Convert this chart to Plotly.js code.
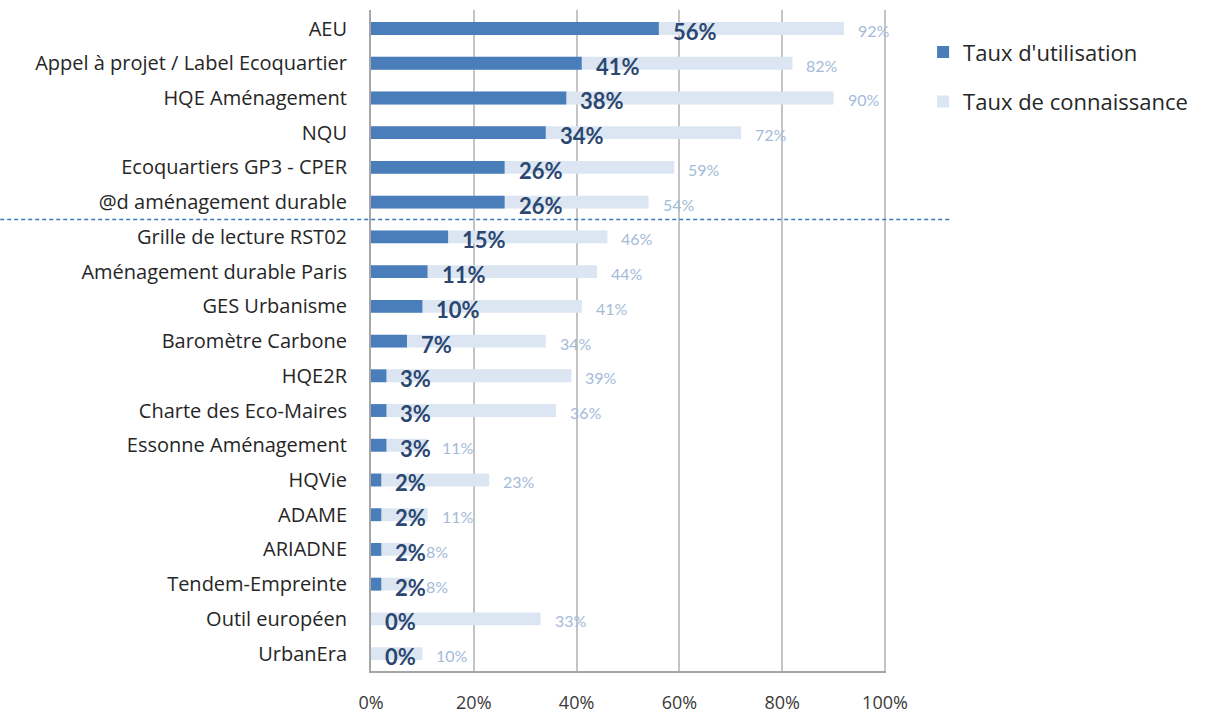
<!DOCTYPE html>
<html>
<head>
<meta charset="utf-8">
<script src="https://cdn.plot.ly/plotly-3.0.1.min.js"></script>
<style>
html,body{margin:0;padding:0;background:#fff;}
#chart{width:1206px;height:717px;}
</style>
</head>
<body>
<div id="chart"></div>
<script>
const categories = [
  "AEU",
  "Appel à projet / Label Ecoquartier",
  "HQE Aménagement",
  "NQU",
  "Ecoquartiers GP3 - CPER",
  "@d aménagement durable",
  "Grille de lecture RST02",
  "Aménagement durable Paris",
  "GES Urbanisme",
  "Baromètre Carbone",
  "HQE2R",
  "Charte des Eco-Maires",
  "Essonne Aménagement",
  "HQVie",
  "ADAME",
  "ARIADNE",
  "Tendem-Empreinte",
  "Outil européen",
  "UrbanEra"
];
const utilisation = [56, 41, 38, 34, 26, 26, 15, 11, 10, 7, 3, 3, 3, 2, 2, 2, 2, 0, 0];
const connaissance = [92, 82, 90, 72, 59, 54, 46, 44, 41, 34, 39, 36, 11, 23, 11, 8, 8, 33, 10];
const seriesNames = ["Taux d'utilisation", "Taux de connaissance"];
const xTickVals = [0, 20, 40, 60, 80, 100];
const xTickText = ["0%", "20%", "40%", "60%", "80%", "100%"];
const separatorAfter = "@d aménagement durable";

const darkBlue = "#4a7ebb";
const lightBlue = "#dce6f2";
const darkText = "#2b4670";
const lightText = "#a4bbd8";

const traces = [
  {
    type: "bar", orientation: "h", name: seriesNames[1],
    y: categories, x: connaissance, width: 0.37,
    marker: {color: lightBlue}, legendrank: 2, legendgroup: "b", hoverinfo: "skip"
  },
  {
    type: "bar", orientation: "h", name: seriesNames[0],
    y: categories, x: utilisation, width: 0.37,
    marker: {color: darkBlue}, legendrank: 1, legendgroup: "a", hoverinfo: "skip"
  }
];

const annotations = [];
categories.forEach((c, i) => {
  annotations.push({
    x: connaissance[i], y: c, xref: "x", yref: "y", text: connaissance[i] + "%",
    showarrow: false, xanchor: "left", yanchor: "middle", xshift: 12, yshift: -2,
    font: {family: "Lato, 'Open Sans', sans-serif", size: 16, color: lightText}
  });
});
categories.forEach((c, i) => {
  annotations.push({
    x: utilisation[i], y: c, xref: "x", yref: "y", text: "<b>" + utilisation[i] + "%</b>",
    showarrow: false, xanchor: "left", yanchor: "middle", xshift: 12, yshift: -3,
    font: {family: "Lato, 'Open Sans', sans-serif", size: 22, color: darkText}
  });
});

const sepIndex = categories.indexOf(separatorAfter) + 0.5;

const layout = {
  width: 1206, height: 717,
  margin: {l: 371, r: 320, t: 10, b: 46},
  paper_bgcolor: "#ffffff", plot_bgcolor: "#ffffff",
  barmode: "overlay",
  showlegend: true,
  legend: {
    x: 1.072, y: 0.968, xanchor: "left", yanchor: "top",
    font: {family: "'Open Sans', sans-serif", size: 22, color: "#262626"},
    traceorder: "grouped", tracegroupgap: 18, itemclick: false
  },
  xaxis: {
    range: [0, 100.2], tickvals: xTickVals, ticktext: xTickText,
    showgrid: true, gridcolor: "#c4c4c4", gridwidth: 2,
    zeroline: false, showline: true, linecolor: "#a6a6a6", linewidth: 2,
    ticks: "", ticklabelstandoff: 14,
    tickfont: {family: "'Open Sans', sans-serif", size: 18, color: "#3a3a3a"},
    fixedrange: true
  },
  yaxis: {
    type: "category", autorange: "reversed",
    showgrid: false, zeroline: false, showline: true, linecolor: "#a6a6a6", linewidth: 2,
    ticks: "", ticklabelstandoff: 18,
    tickfont: {family: "'Open Sans', sans-serif", size: 20, color: "#262626"},
    fixedrange: true
  },
  shapes: [{
    type: "line", xref: "paper", yref: "y",
    x0: -0.72, x1: 1.128, y0: sepIndex, y1: sepIndex,
    line: {color: "#3b78bf", width: 1.5, dash: "4px,3px"}
  }],
  annotations: annotations
};

Plotly.newPlot("chart", traces, layout, {displayModeBar: false, staticPlot: true});
</script>
</body>
</html>
